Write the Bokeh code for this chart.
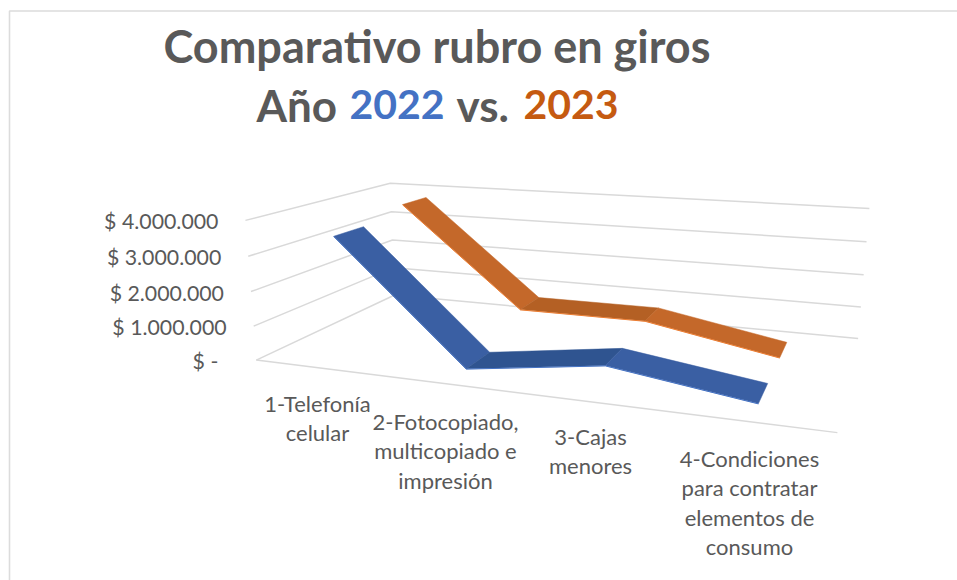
import numpy as np
from bokeh.plotting import figure
from bokeh.models import Range1d, ColumnDataSource
from bokeh.core.properties import value
from bokeh.embed import file_html
from bokeh.resources import INLINE

# ---------- data ----------
categories = [["1-Telefonía", "celular"],
              ["2-Fotocopiado,", "multicopiado e", "impresión"],
              ["3-Cajas", "menores"],
              ["4-Condiciones", "para contratar", "elementos de", "consumo"]]
values_2022 = [3475000, 40000, 580000, 36000]
values_2023 = [3775000, 713000, 726000, 19000]
tick_values = [0, 1000000, 2000000, 3000000, 4000000]
tick_labels = ["$ -", "$ 1.000.000", "$ 2.000.000", "$ 3.000.000", "$ 4.000.000"]
axis_max = 4000000

# ---------- style / layout ----------
FONT = "Lato"
GREY = "#595959"
GRID = "#d9d9d9"
BLUE_2022 = "#4472c4"
ORANGE_2023 = "#c55a11"
series = [
    dict(vals=values_2022, depth=0.25, light="#3a5fa3", dark="#2f5490", edge="#4472c4"),
    dict(vals=values_2023, depth=0.75, light="#c4682a", dark="#b46024", edge="#ed7d31"),
]
HALF_RIBBON = 0.10
CAT_CENTER_X = [317, 445, 590, 749]
CAT_FIRST_BASELINE = [403, 421, 436, 458]
CAT_LINE_STEP = 29.3

# perspective camera of the 3-D chart: (category, depth, value fraction) -> page pixels
CAM = np.array([
    [425.4327435370773, 241.65817646096318, -19.86988108441988, 255.79713439731458],
    [-7.811981126369726, 12.095304808143993, -147.76248173264858, 359.5586354675565],
    [-0.18599702342925184, 0.26207406452380155, -0.03680071757642622, 1.0]])

def project(u, d, v):
    r = CAM @ np.array([u, d, v / axis_max, 1.0])
    return r[0] / r[2], r[1] / r[2]

p = figure(width=957, height=580, output_backend="svg", toolbar_location=None,
           x_range=Range1d(0, 957), y_range=Range1d(580, 0),
           x_axis_type=None, y_axis_type=None, min_border=0)
p.outline_line_color = None
p.grid.visible = False
p.background_fill_color = "white"

# chart frame
p.line([9, 9, 957], [580, 10.5, 10.5], line_color="#dcdcdc", line_width=1.6)

# gridlines: side wall + back wall, plus the front floor edge
for tv in tick_values:
    pts = [project(0, 0, tv), project(0, 1, tv), project(1, 1, tv)]
    p.line([q[0] for q in pts], [q[1] for q in pts], line_color=GRID, line_width=1.5)
a, b = project(0, 0, 0), project(1, 0, 0)
p.line([a[0], b[0]], [a[1], b[1]], line_color=GRID, line_width=1.5)

# ribbons
n = len(categories)
for s in series:
    xs, ys, cols = [], [], []
    u = [(i + 0.5) / n for i in range(n)]
    d0, d1 = s["depth"] - HALF_RIBBON, s["depth"] + HALF_RIBBON
    for i in range(n - 1):
        q = [project(u[i], d0, s["vals"][i]), project(u[i + 1], d0, s["vals"][i + 1]),
             project(u[i + 1], d1, s["vals"][i + 1]), project(u[i], d1, s["vals"][i])]
        xs.append([c[0] for c in q])
        ys.append([c[1] for c in q])
        cols.append(s["dark"] if i == 1 else s["light"])
    src = ColumnDataSource(dict(xs=xs, ys=ys, c=cols))
    p.patches("xs", "ys", source=src, fill_color="c", line_color="c", line_width=0.5)
    front = [project(u[i], d0, s["vals"][i]) for i in range(n)]
    p.line([c[0] for c in front], [c[1] + 0.3 for c in front],
           line_color=s["edge"], line_width=1.0)

# value labels
for tv, lab in zip(tick_values, tick_labels):
    x, y = project(0, 0, tv)
    gap = 38 if tv == 0 else 27
    p.text([x - gap], [y + 1], text=[lab], text_font=value(FONT), text_font_size="21.3px",
           text_color=GREY, text_align="right", text_baseline="middle")

# category labels
for cx, y0, lines in zip(CAT_CENTER_X, CAT_FIRST_BASELINE, categories):
    for j, line in enumerate(lines):
        p.text([cx], [y0 + j * CAT_LINE_STEP], text=[line], text_font=value(FONT),
               text_font_size="22px", text_color=GREY, text_align="center",
               text_baseline="alphabetic")

# title
p.text([436.5], [45], text=["Comparativo rubro en giros"], text_font=value(FONT),
       text_font_size="45px", text_font_style="bold", text_color=GREY,
       text_align="center", text_baseline="alphabetic")
for tx, txt, col, size in [(256, "Año", GREY, "44px"), (349, "2022", BLUE_2022, "41px"),
                           (456, "vs.", GREY, "44px"), (523, "2023", ORANGE_2023, "41px")]:
    p.text([tx], [104], text=[txt], text_font=value(FONT), text_font_size=size,
           text_font_style="bold", text_color=col, text_align="left",
           text_baseline="alphabetic")

open("out.html", "w").write(file_html(p, INLINE))
